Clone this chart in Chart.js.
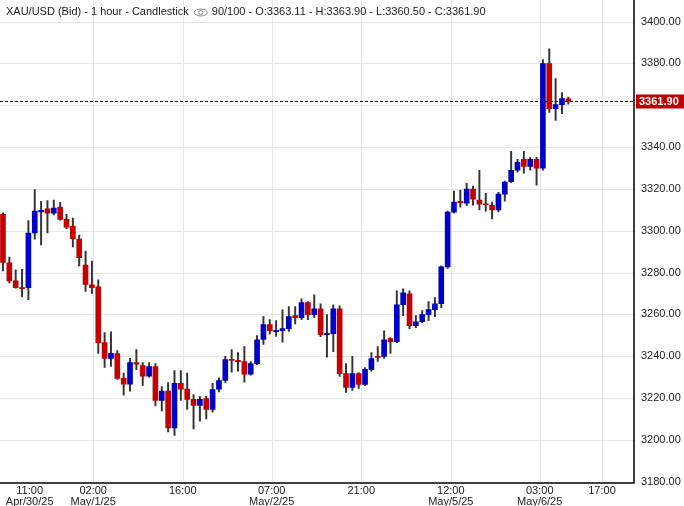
<!DOCTYPE html>
<html><head><meta charset="utf-8">
<script src="https://cdn.jsdelivr.net/npm/chart.js@4"></script>
<style>html,body{margin:0;padding:0;background:#fff}canvas{display:block}</style>
</head><body>
<canvas id="c" width="684" height="506"></canvas>
<script>
const opens  = [3307.8,3284.6,3276,3272.6,3272.8,3298.9,3309,3310.5,3308.4,3311.3,3305.5,3302.2,3296,3283.6,3274.1,3273.2,3246.5,3239,3241.3,3229.4,3226.7,3237,3235.5,3230.5,3235.1,3218.9,3223.3,3205.7,3227.1,3224.3,3219.4,3216.5,3219.8,3214.6,3224.3,3228.4,3238.5,3237.9,3237.5,3231.4,3236.5,3248,3255.1,3252,3252.2,3253.2,3259.4,3258.4,3265.6,3259.9,3262.7,3250.5,3250.8,3262.7,3231.7,3225.1,3231.7,3226.5,3233.6,3239.9,3239.9,3248.4,3247,3264.6,3269.8,3254.6,3256.5,3259.9,3262.3,3265.1,3282.7,3308.9,3313.9,3313.2,3319.9,3314.6,3312.9,3312.2,3309.9,3317.5,3323.5,3328.9,3334.1,3330.8,3334.1,3329.9,3379.9,3358.4,3360.3,3363.11];
const highs  = [3308.5,3287.4,3281.3,3281.6,3304.9,3319.7,3314.1,3314.4,3314.6,3313.6,3307.8,3306,3297.9,3290.3,3285.5,3276.5,3251.3,3251.7,3242.7,3231.9,3239,3243.2,3237,3237,3236.5,3225.5,3227.4,3233.2,3233.2,3231.9,3221.7,3220.8,3220.8,3227.1,3229.7,3239.9,3243.2,3241.8,3244.6,3237.5,3249.9,3258.9,3257.5,3257,3262.2,3263.7,3263.7,3267.5,3266.1,3269.4,3265.1,3259.9,3264.6,3264.1,3236.5,3239.9,3232.2,3234.6,3241.8,3244.6,3252.2,3248.9,3271.3,3272.2,3271.3,3259.4,3261.8,3266.1,3268,3283.2,3309.4,3318.9,3319.4,3322.7,3321.3,3328.9,3317.9,3313.7,3318.4,3323.7,3337.9,3334.1,3337.9,3335.1,3335.1,3381.8,3387,3372.7,3366.1,3363.9];
const lows   = [3280.8,3275.1,3272.5,3268.4,3267.1,3296,3293.2,3298.9,3307.6,3305.1,3301,3292.2,3283.2,3271,3270,3241.4,3234.7,3235.1,3228.9,3221.4,3223.3,3233.6,3226,3230,3216.2,3213.8,3203.8,3202.2,3218.9,3214.6,3205.2,3209,3210,3213.3,3223,3227.5,3232.4,3232.9,3227.6,3231,3236,3245.7,3250.5,3249.5,3246.7,3251.9,3255.4,3257.5,3257.5,3258.4,3249.4,3239.5,3242.2,3230.3,3222.7,3223.7,3224.6,3226,3232.9,3237.5,3238.9,3241.3,3246.5,3259.4,3253.2,3253.6,3256,3257,3258.9,3263.2,3282,3308.4,3311.3,3312,3312.2,3309.9,3309.4,3305.6,3309,3314.1,3323,3328,3327.5,3328.9,3321.8,3329,3356.5,3352.7,3356,3360.5];
const closes = [3284.8,3276,3272.8,3272.5,3298.9,3309.4,3309.8,3308.4,3310.8,3305.4,3301.7,3296.2,3287.1,3274.3,3272.8,3246.5,3239,3241.4,3229.4,3226.7,3237,3236.2,3230.5,3235.1,3218.9,3223.3,3205.7,3227.1,3224.3,3219.4,3216.5,3219.4,3214.6,3224.1,3228.4,3238.4,3238,3237.5,3231.4,3236.5,3247.9,3255.1,3252.2,3252.2,3253.2,3258.9,3258.4,3265.6,3259.9,3262.7,3250.3,3250.8,3262.7,3231.7,3225.1,3231.7,3226.5,3233.7,3238.9,3239.4,3247.9,3247,3264.6,3270.3,3254.6,3256.5,3259.9,3262.3,3265.1,3282.7,3308.9,3313.7,3313.6,3319.9,3315.1,3312.7,3312.4,3309.9,3317.5,3323.2,3328.9,3332.7,3330.8,3334.1,3329.9,3379.9,3358.4,3360.3,3363.2,3361.9];
const tickPos    = [4.2,14.2,28.3,42.3,56.4,70.5,84.5,94.3];
const tickLabels = [["11:00","Apr/30/25"],["02:00","May/1/25"],["16:00",""],["07:00","May/2/25"],["21:00",""],["12:00","May/5/25"],["03:00","May/6/25"],["17:00",""]];
const yTicks = [3180,3200,3220,3240,3260,3280,3300,3320,3340,3360,3380,3400];
const lastPrice = 3361.9;
const titleA = "XAU/USD (Bid) - 1 hour - Candlestick";
const titleB = "90/100 - O:3363.11 - H:3363.90 - L:3360.50 - C:3361.90";

const RED='#c40000', BLUE='#0000c4';
const col = opens.map((o,i)=> closes[i] >= o ? BLUE : RED);
const wickData = opens.map((o,i)=>({x:i,y:[lows[i],highs[i]]}));
const bodyData = opens.map((o,i)=>{
  let a=o,b=closes[i]; if(Math.abs(a-b)<0.5){const m=(a+b)/2;a=m-0.3;b=m+0.3;}
  return {x:i,y:[a,b]};
});
const FONT = "'Liberation Sans', Arial, sans-serif";

const overlay = {
  id:'overlay',
  beforeDraw(chart){
    const {ctx, chartArea:ca} = chart;
    ctx.save(); ctx.strokeStyle='#e6e6e6'; ctx.lineWidth=1;
    chart.scales.y.ticks.forEach(t=>{
      const py=Math.round(chart.scales.y.getPixelForValue(t.value))+0.5;
      if(py>ca.bottom-1) return;
      ctx.beginPath(); ctx.moveTo(0,py); ctx.lineTo(ca.right,py); ctx.stroke();
    });
    tickPos.forEach((v,i)=>{ if(i===0) return;
      const px=Math.round(chart.scales.x.getPixelForValue(v))+0.5;
      ctx.beginPath(); ctx.moveTo(px,0); ctx.lineTo(px,ca.bottom); ctx.stroke();
    });
    ctx.restore();
  },
  afterDatasetsDraw(chart){
    const {ctx, chartArea:ca, scales:{y}} = chart;
    const py = Math.round(y.getPixelForValue(lastPrice))+0.5;
    ctx.save();
    ctx.strokeStyle='#000'; ctx.lineWidth=1; ctx.setLineDash([3,2]);
    ctx.beginPath(); ctx.moveTo(ca.left,py); ctx.lineTo(ca.right,py); ctx.stroke();
    ctx.setLineDash([]);
    ctx.fillStyle='#c00000'; ctx.fillRect(ca.right+2,py-7,48,14);
    ctx.fillStyle='#fff'; ctx.font="bold 11px "+FONT; ctx.textBaseline='middle';
    ctx.fillText(lastPrice.toFixed(2),ca.right+5,py+0.5);
    ctx.fillStyle='#222'; ctx.font="11px "+FONT; ctx.textBaseline='middle';
    ctx.fillText(titleA,6,12);
    const w=ctx.measureText(titleA).width;
    const ex=6+w+12;
    ctx.strokeStyle='#888'; ctx.lineWidth=1;
    ctx.beginPath(); ctx.ellipse(ex,12.5,6.5,3.5,0,0,Math.PI*2); ctx.stroke();
    ctx.beginPath(); ctx.arc(ex,12.5,2,0,Math.PI*2); ctx.stroke();
    ctx.fillText(titleB,ex+11,12);
    ctx.strokeStyle='#000'; ctx.lineWidth=1.5;
    ctx.beginPath(); ctx.moveTo(0,ca.bottom); ctx.lineTo(ca.right,ca.bottom); ctx.lineTo(ca.right,0); ctx.stroke();
    ctx.restore();
  }
};

new Chart(document.getElementById('c'),{
  type:'bar',
  data:{datasets:[
    {data:bodyData, backgroundColor:col, barThickness:5, grouped:false, order:1},
    {data:wickData, backgroundColor:'#333', barThickness:1.3, grouped:false, order:2}
  ]},
  options:{
    responsive:false, animation:false,
    layout:{padding:0},
    plugins:{legend:{display:false},tooltip:{enabled:false}},
    scales:{
      x:{type:'linear', min:-0.47, max:99.34, offset:false,
        afterBuildTicks(s){s.ticks=tickPos.map(v=>({value:v}));},
        afterFit(s){s.height=23;},
        grid:{display:false, drawTicks:false},
        border:{display:false},
        ticks:{autoSkip:false, maxRotation:0, padding:2, color:'#222', font:{family:FONT,size:11,lineHeight:1.0},
          callback:(v,i)=>tickLabels[i]}
      },
      y:{position:'right', min:3179.4, max:3403.8,
        afterBuildTicks(s){s.ticks=yTicks.map(v=>({value:v}));},
        afterFit(s){s.width=50;},
        grid:{display:false, drawTicks:false},
        border:{display:false},
        ticks:{padding:7, color:'#222', font:{family:FONT,size:11}, callback:v=>v.toFixed(2)}
      }
    }
  },
  plugins:[overlay]
});
</script>
</body></html>
